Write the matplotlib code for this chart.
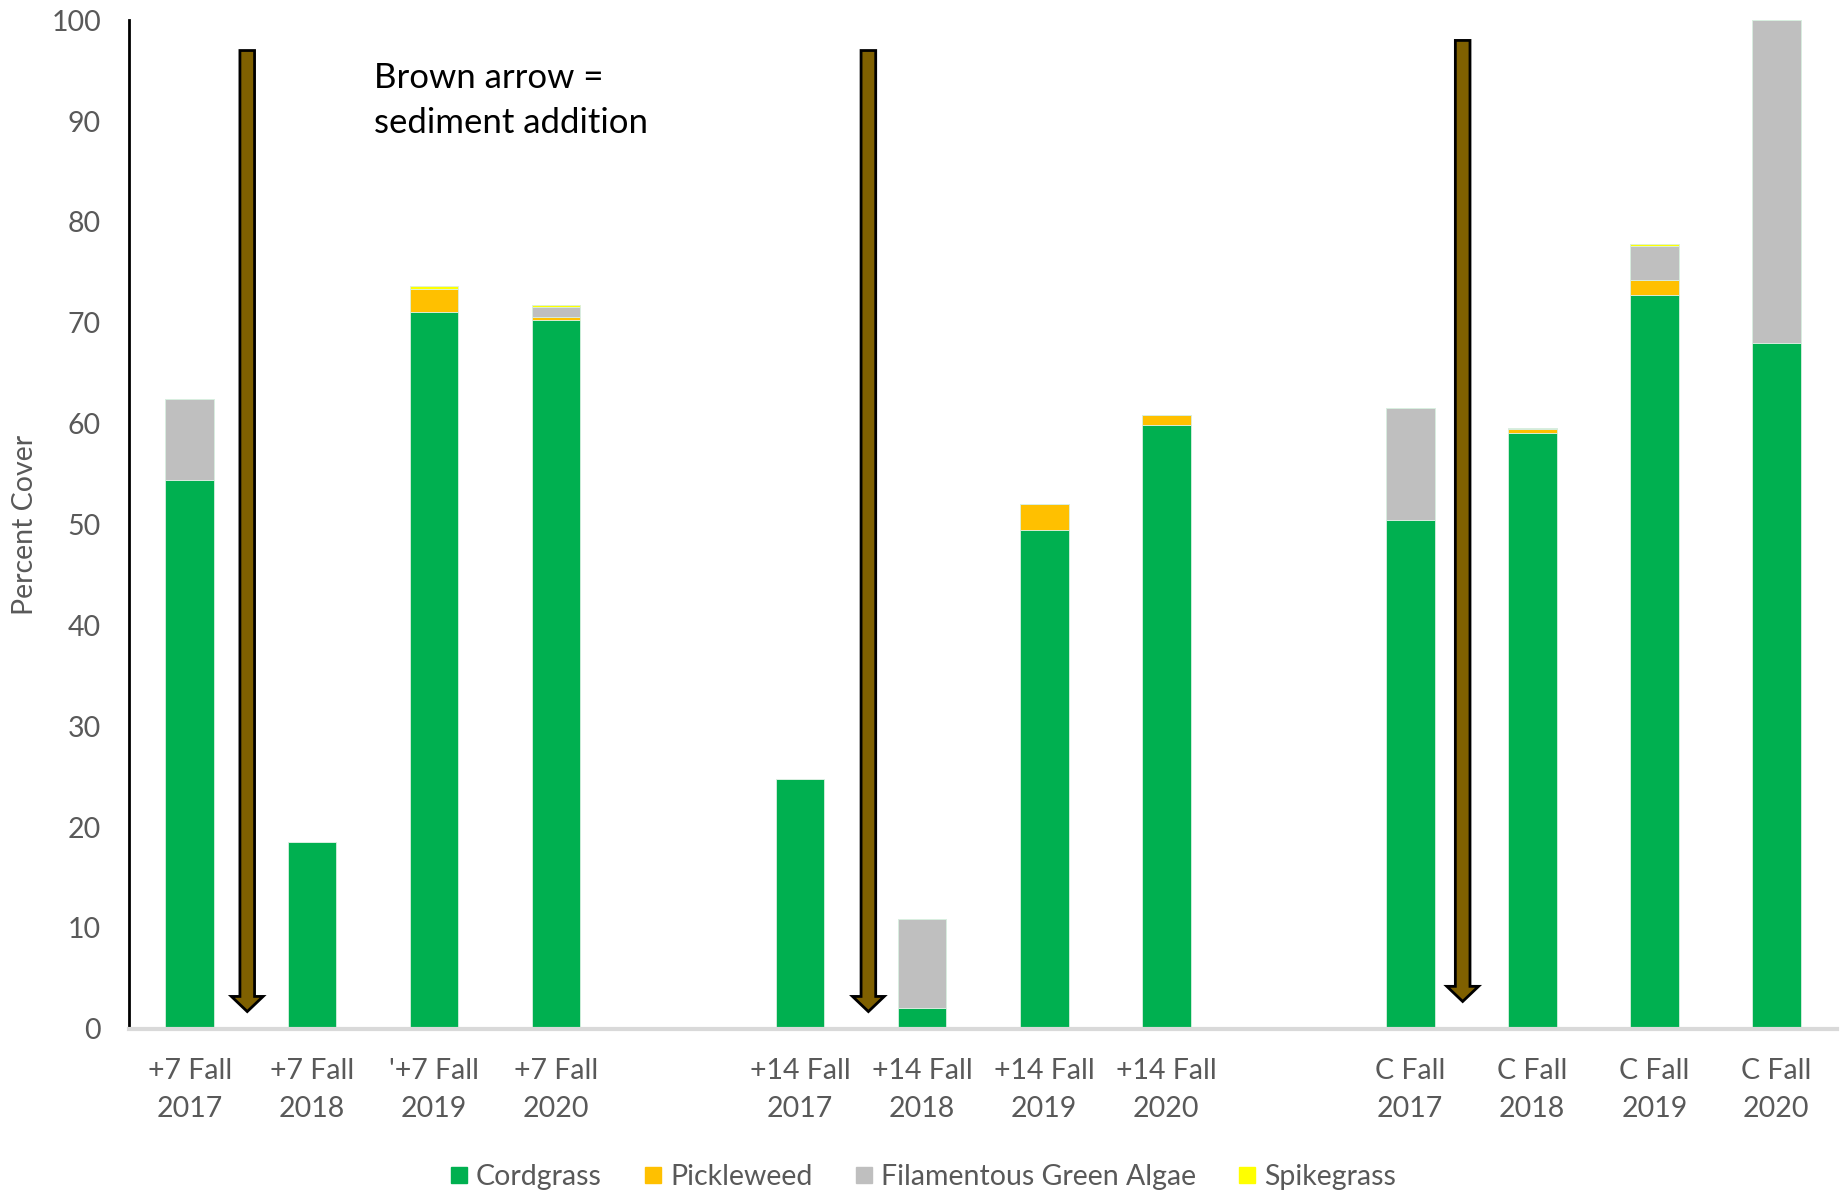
import numpy as np
from matplotlib import pyplot as plt
from matplotlib.lines import Line2D

plt.rcParams['font.family'] = ['Lato', 'DejaVu Sans']

sites = ['+7', '+14', 'C']
years = ['2017', '2018', '2019', '2020']
labels = ['+7 Fall\n2017', '+7 Fall\n2018', "'+7 Fall\n2019", '+7 Fall\n2020',
          '+14 Fall\n2017', '+14 Fall\n2018', '+14 Fall\n2019', '+14 Fall\n2020',
          'C Fall\n2017', 'C Fall\n2018', 'C Fall\n2019', 'C Fall\n2020']

cordgrass  = [54.4, 18.5, 71.1, 70.3, 24.8, 2.1, 49.5, 59.9, 50.4, 59.1, 72.8, 68.0]
pickleweed = [0.0, 0.0, 2.3, 0.3, 0.0, 0.0, 2.5, 1.0, 0.0, 0.4, 1.4, 0.0]
algae      = [8.0, 0.0, 0.0, 1.0, 0.0, 8.8, 0.0, 0.0, 11.2, 0.1, 3.4, 32.0]
spikegrass = [0.0, 0.0, 0.2, 0.2, 0.0, 0.0, 0.0, 0.0, 0.0, 0.0, 0.2, 0.0]

series = [('Cordgrass', cordgrass, '#00B050'),
          ('Pickleweed', pickleweed, '#FFC000'),
          ('Filamentous Green Algae', algae, '#BFBFBF'),
          ('Spikegrass', spikegrass, '#FFFF00')]

# sediment addition arrows: x, top, tip
arrows = [(0.47, 97.0, 1.7), (5.56, 97.0, 1.7), (10.43, 98.0, 2.7)]

# one empty slot between site groups
x = np.array([g * (len(years) + 1) + j for g in range(len(sites)) for j in range(len(years))])

fig = plt.figure(figsize=(18.41, 11.92), dpi=100)
ax = fig.add_axes([0.070, 0.137, 0.928, 0.846])

bottom = np.zeros(len(x))
for name, vals, col in series:
    vals = np.array(vals)
    ax.bar(x, vals, width=0.40, bottom=bottom, color=col, edgecolor='#d8efe0',
           linewidth=0.6, label=name)
    bottom += vals

for ax_x, top, tip in arrows:
    ax.arrow(ax_x, top, 0, tip - top, width=0.12, head_width=0.26, head_length=1.5,
             length_includes_head=True, fc='#7F6000', ec='black', lw=2, zorder=5)

ax.text(1.51, 92.0, 'Brown arrow =\nsediment addition', fontsize=25, ha='left', va='center',
        linespacing=1.5, color='black')

ax.set_xlim(-0.5, x[-1] + 0.5)
ax.set_ylim(0, 100)
ax.set_yticks(range(0, 101, 10))
ax.set_xticks(x)
ax.set_xticklabels(labels, linespacing=1.58)
ax.tick_params(axis='both', length=0, labelsize=20.5, labelcolor='#595959')
ax.tick_params(axis='y', pad=20)
ax.tick_params(axis='x', pad=21)

for s in ['top', 'right']:
    ax.spines[s].set_visible(False)
ax.spines['left'].set_color('black')
ax.spines['left'].set_linewidth(2)
ax.spines['bottom'].set_color('#D9D9D9')
ax.spines['bottom'].set_linewidth(3)

ax.set_ylabel('Percent Cover', fontsize=20.5, color='#595959')
ax.yaxis.set_label_coords(-0.053, 0.5)

handles = [Line2D([], [], marker='s', linestyle='none', markersize=11, color=col)
           for _, _, col in series]
fig.legend(handles, [n for n, _, _ in series], loc='center', bbox_to_anchor=(0.5, 0.013),
           ncol=4, frameon=False, fontsize=20.5, labelcolor='#595959', handletextpad=0.1,
           columnspacing=1.3, handlelength=1.0)

plt.savefig('out.png')
